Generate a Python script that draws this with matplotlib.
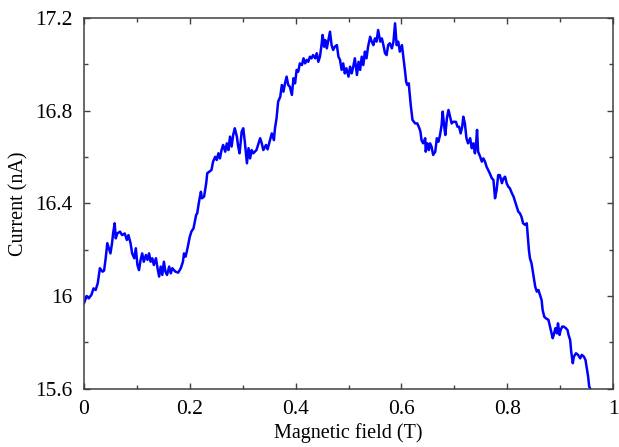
import matplotlib
matplotlib.use("Agg")
import matplotlib.pyplot as plt
from matplotlib.ticker import MultipleLocator

field = [0.000, 0.005, 0.009, 0.014, 0.018, 0.022, 0.026, 0.030, 0.035, 0.038,
         0.041, 0.044, 0.047, 0.050, 0.053, 0.055, 0.058, 0.060, 0.063, 0.068,
         0.072, 0.077, 0.081, 0.084, 0.088, 0.091, 0.095, 0.098, 0.101, 0.104,
         0.107, 0.110, 0.113, 0.117, 0.120, 0.123, 0.126, 0.129, 0.132, 0.136,
         0.139, 0.142, 0.145, 0.148, 0.151, 0.154, 0.157, 0.161, 0.164, 0.167,
         0.170, 0.173, 0.178, 0.183, 0.187, 0.189, 0.192, 0.195, 0.200, 0.203,
         0.207, 0.212, 0.214, 0.218, 0.221, 0.223, 0.227, 0.231, 0.233, 0.237,
         0.241, 0.244, 0.248, 0.251, 0.254, 0.257, 0.260, 0.263, 0.267, 0.270,
         0.273, 0.276, 0.279, 0.282, 0.285, 0.289, 0.291, 0.294, 0.296, 0.298,
         0.301, 0.304, 0.308, 0.311, 0.314, 0.317, 0.320, 0.326, 0.329, 0.333,
         0.336, 0.339, 0.344, 0.347, 0.350, 0.355, 0.359, 0.361, 0.364, 0.367,
         0.371, 0.374, 0.377, 0.380, 0.383, 0.386,
         0.389, 0.393, 0.396, 0.399, 0.402, 0.405, 0.408, 0.412, 0.415, 0.418,
         0.421, 0.424, 0.427, 0.430, 0.433, 0.437, 0.440, 0.443, 0.446, 0.449,
         0.451, 0.454, 0.456, 0.459, 0.462, 0.465, 0.468, 0.471, 0.474, 0.478,
         0.481, 0.484, 0.487, 0.490, 0.493, 0.496, 0.500, 0.503, 0.506, 0.509,
         0.512, 0.516, 0.519, 0.522, 0.525, 0.528, 0.531, 0.534, 0.537, 0.541,
         0.544, 0.547, 0.550, 0.553, 0.556, 0.560, 0.563, 0.566, 0.569, 0.572,
         0.575, 0.578, 0.582, 0.585, 0.588, 0.591, 0.594, 0.597, 0.601, 0.604,
         0.607, 0.609, 0.611, 0.614,
         0.615, 0.618, 0.621, 0.626, 0.630, 0.634, 0.636, 0.638, 0.641, 0.645,
         0.646, 0.649, 0.652, 0.654, 0.657, 0.660, 0.664, 0.667, 0.670, 0.673,
         0.676, 0.678, 0.681, 0.683, 0.686, 0.689, 0.692, 0.695, 0.698, 0.703,
         0.706, 0.709, 0.712, 0.715, 0.717, 0.720, 0.723, 0.726, 0.730, 0.733,
         0.736, 0.739, 0.741, 0.743, 0.745, 0.749, 0.752, 0.755, 0.758, 0.761,
         0.764, 0.767, 0.771, 0.774, 0.777, 0.780, 0.783, 0.786, 0.790, 0.793,
         0.796, 0.799, 0.802, 0.805,
         0.809, 0.812, 0.815, 0.818, 0.821, 0.824, 0.827, 0.830, 0.834, 0.837,
         0.839, 0.841, 0.843, 0.846, 0.849, 0.853, 0.856, 0.859, 0.862, 0.865,
         0.867, 0.870, 0.873, 0.878, 0.881, 0.884, 0.886, 0.888, 0.891, 0.894,
         0.896, 0.899, 0.901, 0.904, 0.907, 0.911, 0.914, 0.916, 0.919, 0.921,
         0.924, 0.926, 0.930, 0.934, 0.938, 0.941, 0.945, 0.948, 0.950, 0.953,
         0.955, 0.957]

current = [15.969, 16.000, 15.990, 16.005, 16.033, 16.026, 16.055, 16.120, 16.105, 16.110,
           16.163, 16.228, 16.206, 16.184, 16.228, 16.270, 16.314, 16.249, 16.270, 16.278,
           16.263, 16.270, 16.242, 16.263, 16.228, 16.184, 16.163, 16.206, 16.134, 16.112,
           16.156, 16.184, 16.148, 16.177, 16.156, 16.184, 16.148, 16.163, 16.134, 16.163,
           16.120, 16.084, 16.127, 16.091, 16.148, 16.105, 16.091, 16.127, 16.098, 16.120,
           16.112, 16.105, 16.101, 16.120, 16.148, 16.184, 16.170, 16.199, 16.256, 16.278,
           16.292, 16.350, 16.357, 16.415, 16.450, 16.422, 16.429, 16.487, 16.530, 16.537,
           16.544, 16.580, 16.601, 16.587, 16.616, 16.594, 16.630, 16.652, 16.623, 16.659,
           16.630, 16.688, 16.645, 16.695, 16.724, 16.688, 16.652, 16.616, 16.659, 16.709,
           16.724, 16.666, 16.573, 16.638, 16.594, 16.630, 16.616, 16.630, 16.652, 16.681,
           16.659, 16.630, 16.652, 16.633, 16.659, 16.702, 16.673, 16.724, 16.767, 16.839,
           16.860, 16.911, 16.882, 16.918, 16.947, 16.911,
           16.904, 16.868, 16.940, 16.918, 16.976, 16.968, 17.004, 16.997, 17.026, 17.004,
           17.019, 17.011, 17.033, 17.026, 17.040, 17.026, 17.048, 17.011, 17.033, 17.083,
           17.127, 17.076, 17.105, 17.069, 17.105, 17.141, 17.083, 17.062, 17.076, 17.083,
           17.033, 17.019, 16.976, 17.004, 16.961, 16.983, 16.947, 16.990, 16.961, 16.990,
           17.026, 16.954, 17.011, 16.976, 17.033, 16.997, 17.055, 17.026, 17.076, 17.119,
           17.098, 17.083, 17.112, 17.098, 17.148, 17.098, 17.112, 17.083, 17.048, 17.040,
           17.083, 17.091, 17.069, 17.098, 17.177, 17.083, 17.098, 17.055, 17.083, 17.026,
           16.968, 16.925, 16.911, 16.918,
           16.889, 16.817, 16.760, 16.745, 16.745, 16.724, 16.709, 16.673, 16.659, 16.681,
           16.623, 16.659, 16.630, 16.659, 16.645, 16.609, 16.623, 16.681, 16.666, 16.695,
           16.738, 16.796, 16.731, 16.695, 16.767, 16.803, 16.774, 16.745, 16.752, 16.752,
           16.731, 16.731, 16.702, 16.731, 16.774, 16.745, 16.681, 16.659, 16.681, 16.638,
           16.659, 16.616, 16.652, 16.717, 16.623, 16.601, 16.580, 16.594, 16.580, 16.558,
           16.544, 16.530, 16.508, 16.501, 16.422, 16.458, 16.522, 16.522, 16.487, 16.508,
           16.515, 16.487, 16.472, 16.465,
           16.443, 16.429, 16.407, 16.386, 16.364, 16.357, 16.342, 16.314, 16.307, 16.314,
           16.256, 16.199, 16.163, 16.141, 16.098, 16.040, 16.019, 16.026, 16.005, 15.983,
           15.940, 15.911, 15.904, 15.897, 15.868, 15.839, 15.818, 15.832, 15.861, 15.839,
           15.882, 15.832, 15.853, 15.868, 15.868, 15.861, 15.853, 15.832, 15.810, 15.760,
           15.710, 15.738, 15.753, 15.746, 15.731, 15.746, 15.738, 15.724, 15.695, 15.652,
           15.609, 15.600]

x_ticks = [0, 0.2, 0.4, 0.6, 0.8, 1]
x_tick_labels = ["0", "0.2", "0.4", "0.6", "0.8", "1"]
y_ticks = [15.6, 16.0, 16.4, 16.8, 17.2]
y_tick_labels = ["15.6", "16", "16.4", "16.8", "17.2"]

plt.rcParams['font.family'] = ['Liberation Serif', 'DejaVu Serif']

fig = plt.figure(figsize=(6.19, 4.47), dpi=100)
ax = fig.add_axes([84/619, 1 - 388.7/447, (613 - 84)/619, (388.7 - 18)/447])

ax.plot(field, current, color='#0000ff', linewidth=1.8)

ax.set_xlim(0, 1)
ax.set_ylim(15.6, 17.2)
ax.set_xticks(x_ticks)
ax.set_xticklabels(x_tick_labels)
ax.set_yticks(y_ticks)
ax.set_yticklabels(y_tick_labels)
ax.xaxis.set_minor_locator(MultipleLocator(0.1))
ax.yaxis.set_minor_locator(MultipleLocator(0.2))

ax.tick_params(which='both', direction='in', top=True, right=True,
               color='#404040', width=1.0)
ax.tick_params(which='major', length=4.3, labelsize=15.5, pad=8)
ax.tick_params(which='minor', length=2.9)
for s in ax.spines.values():
    s.set_color('#404040')
    s.set_linewidth(1.1)

ax.set_xlabel("Magnetic field (T)", fontsize=14.5, labelpad=3)
ax.set_ylabel("Current (nA)", fontsize=14.5, labelpad=5)

fig.savefig("out.png", dpi=100)
